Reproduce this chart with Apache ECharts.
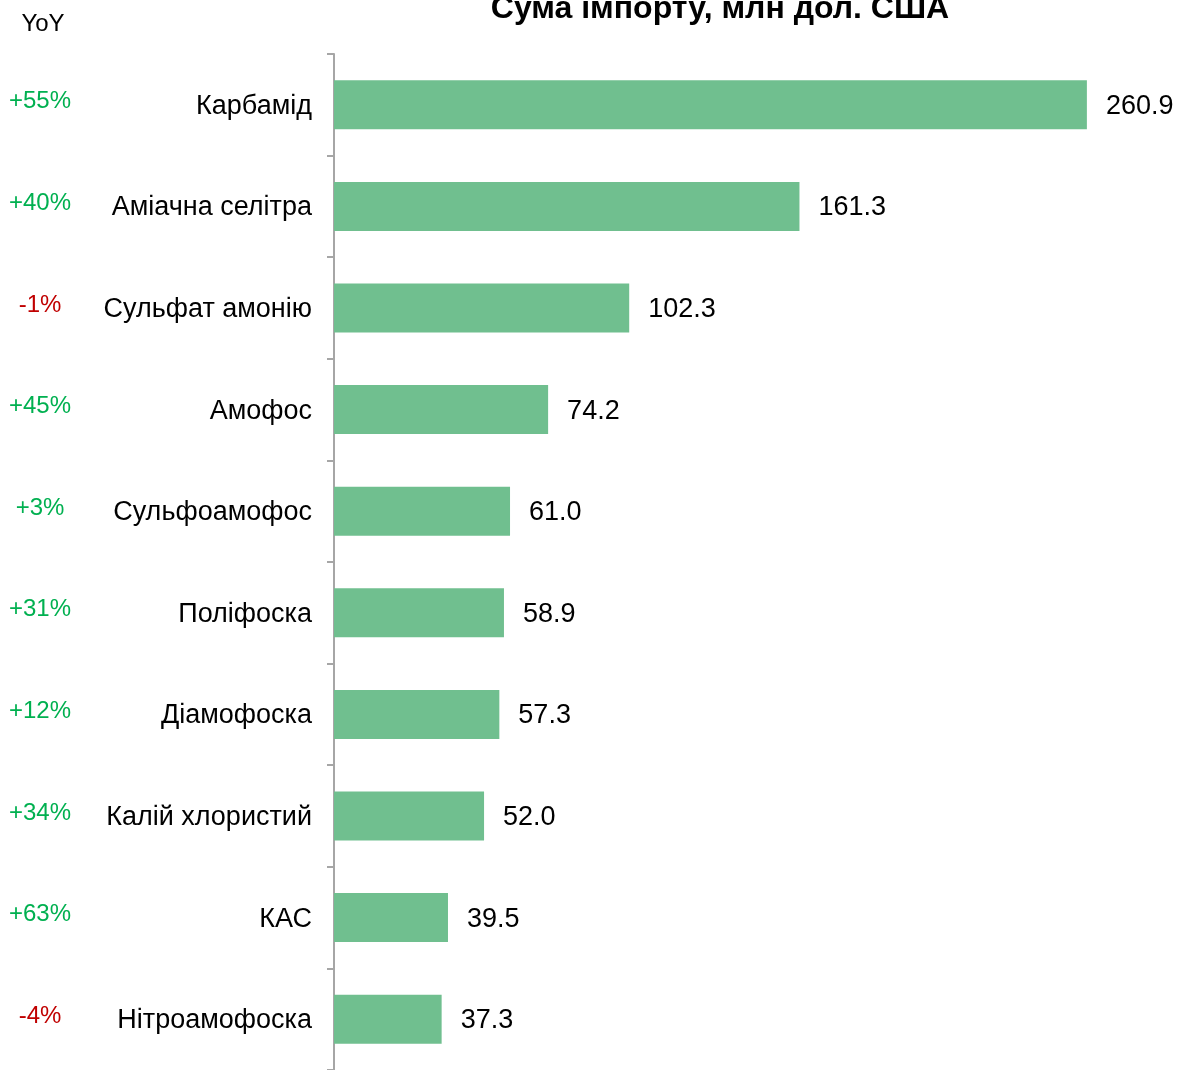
<!DOCTYPE html>
<html>
<head>
<meta charset="utf-8">
<script src="https://cdn.jsdelivr.net/npm/echarts@6/dist/echarts.min.js"></script>
<style>
html,body{margin:0;padding:0;background:#fff;}
#chart{width:1178px;height:1070px;}
</style>
</head>
<body>
<div id="chart"></div>
<script>
var categories = ['Карбамід','Аміачна селітра','Сульфат амонію','Амофос','Сульфоамофос','Поліфоска','Діамофоска','Калій хлористий','КАС','Нітроамофоска'];
var values = [260.9,161.3,102.3,74.2,61.0,58.9,57.3,52.0,39.5,37.3];
var yoy = ['+55%','+40%','-1%','+45%','+3%','+31%','+12%','+34%','+63%','-4%'];

var font = 'Liberation Sans, Arial, sans-serif';
var chart = echarts.init(document.getElementById('chart'));

chart.setOption({
	backgroundColor:'#fff',
	animation:false,
	title:[
		{
			text:'Сума імпорту, млн дол. США',
			left:715,
			textAlign:'center',
			top:-12,
			textStyle:{fontFamily:font,fontSize:32,fontWeight:'bold',color:'#000'}
		},
		{
			text:'YoY',
			left:38,
			textAlign:'center',
			top:7,
			textStyle:{fontFamily:font,fontSize:24,fontWeight:'normal',color:'#000'}
		}
	],
	grid:{left:334,top:54,width:808,bottom:-6,containLabel:false},
	xAxis:{
		type:'value',
		min:0,
		max:280,
		show:false
	},
	yAxis:[
		{
			type:'category',
			data:categories,
			inverse:true,
			axisLine:{show:true,lineStyle:{color:'#a6a6a6',width:2}},
			axisTick:{show:true,length:7,lineStyle:{color:'#a6a6a6',width:2}},
			axisLabel:{
				fontFamily:font,fontSize:27,color:'#000',margin:22,
				formatter:function(v){ return '{c|'+v+'}'; },
				rich:{c:{fontFamily:font,fontSize:27,color:'#000',padding:[3,0,0,0]}}
			}
		},
		{
			type:'category',
			data:yoy,
			inverse:true,
			position:'left',
			axisLine:{show:false},
			axisTick:{show:false},
			axisLabel:{
				fontFamily:font,
				fontSize:24,
				margin:294,
				align:'center',
				formatter:function(v){ return v.charAt(0)==='-' ? '{n|'+v+'}' : '{p|'+v+'}'; },
				rich:{
					p:{fontFamily:font,fontSize:24,color:'#00b050',padding:[0,0,6,0]},
					n:{fontFamily:font,fontSize:24,color:'#c00000',padding:[0,0,6,0]}
				}
			}
		}
	],
	series:[{
		type:'bar',
		data:values,
		barWidth:49,
		itemStyle:{color:'#70bf8f'},
		label:{
			show:true,
			position:'right',
			distance:19,
			formatter:function(p){ return '{v|'+p.value.toFixed(1)+'}'; },
			rich:{v:{fontFamily:font,fontSize:27,color:'#000',padding:[3,0,0,0]}}
		}
	}]
});
</script>
</body>
</html>
